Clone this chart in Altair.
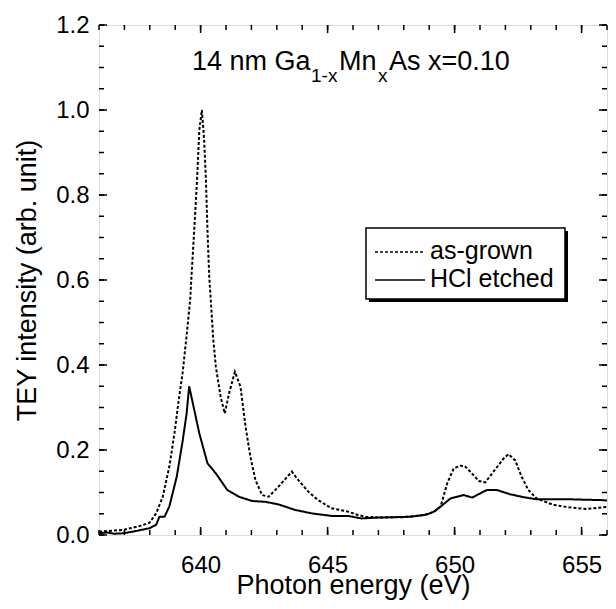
import altair as alt
import pandas as pd

# ---- data ----
x_as = [636.0, 636.5, 636.95, 637.6, 637.99, 638.25, 638.51, 638.77, 638.97, 639.14,
        639.29, 639.45, 639.59, 639.64, 639.75, 639.86, 639.95, 640.05, 640.14, 640.21,
        640.27, 640.34, 640.4, 640.5, 640.6, 640.79, 640.95, 641.12, 641.35, 641.57,
        641.77, 641.96, 642.16, 642.42, 642.68, 643.07, 643.59, 643.85, 644.24, 644.63,
        645.15, 645.8, 646.2, 646.5, 647.0, 648.0, 648.8, 649.2, 649.45, 649.71,
        649.97, 650.23, 650.4, 650.62, 650.95, 651.21, 651.53, 651.93, 652.12, 652.38,
        652.64, 652.9, 653.23, 653.88, 654.53, 655.18, 655.83, 656.0]
y_as = [0.008, 0.010, 0.012, 0.021, 0.029, 0.051, 0.090, 0.161, 0.239, 0.318,
        0.380, 0.470, 0.553, 0.608, 0.718, 0.835, 0.953, 1.000, 0.929, 0.835,
        0.718, 0.608, 0.553, 0.460, 0.396, 0.325, 0.286, 0.333, 0.384, 0.349,
        0.255, 0.184, 0.129, 0.094, 0.090, 0.114, 0.149, 0.129, 0.102, 0.082,
        0.063, 0.055, 0.047, 0.043, 0.041, 0.042, 0.047, 0.055, 0.067, 0.122,
        0.157, 0.163, 0.162, 0.149, 0.127, 0.124, 0.149, 0.180, 0.190, 0.176,
        0.137, 0.106, 0.086, 0.071, 0.065, 0.061, 0.065, 0.066]

x_hcl = [636.0, 636.3, 636.6, 636.95, 637.34, 637.99, 638.25, 638.38, 638.58, 638.77,
         639.06, 639.29, 639.45, 639.55, 639.95, 640.27, 640.6, 641.05, 641.51, 642.03,
         642.55, 643.07, 643.72, 644.37, 645.15, 645.8, 646.32, 646.98, 647.6, 648.28,
         648.9, 649.19, 649.45, 649.84, 650.36, 650.69, 651.27, 651.66, 652.18, 652.71,
         653.23, 654.53, 655.83, 656.0]
y_hcl = [0.004, 0.006, 0.003, 0.004, 0.008, 0.016, 0.024, 0.043, 0.043, 0.067,
         0.137, 0.220, 0.286, 0.350, 0.239, 0.169, 0.145, 0.106, 0.090, 0.080,
         0.078, 0.072, 0.059, 0.051, 0.045, 0.045, 0.039, 0.041, 0.042, 0.043,
         0.048, 0.055, 0.067, 0.086, 0.094, 0.088, 0.106, 0.106, 0.096, 0.089,
         0.084, 0.084, 0.082, 0.081]

series_names = ["as-grown", "HCl etched"]
x_major = [640, 645, 650, 655]
x_minor = list(range(636, 657))
y_major = [0.0, 0.2, 0.4, 0.6, 0.8, 1.0, 1.2]
y_minor = [round(i * 0.05, 2) for i in range(0, 25)]

W, H = 508, 510
FONT = "Liberation Sans"

df = pd.concat([
    pd.DataFrame({"energy": x_as, "tey": y_as, "series": series_names[0]}),
    pd.DataFrame({"energy": x_hcl, "tey": y_hcl, "series": series_names[1]}),
])

xs = alt.Scale(domain=[636, 656], nice=False, zero=False)
ys = alt.Scale(domain=[0, 1.2], nice=False, zero=False)

XAX = alt.Axis(values=x_major, title="Photon energy (eV)", format="d",
               labelFontSize=24, titleFontSize=27, tickSize=0,
               labelPadding=18, titleY=58, titleBaseline="alphabetic",
               domain=False, grid=False,
               labelFont=FONT, titleFont=FONT, titleFontWeight="normal",
               labelColor="black", titleColor="black")
YAX = alt.Axis(values=y_major, title="TEY intensity (arb. unit)", format=".1f",
               labelFontSize=24, titleFontSize=27, tickSize=0,
               labelPadding=10, titlePadding=14, domain=False, grid=False,
               labelFont=FONT, titleFont=FONT, titleFontWeight="normal",
               labelColor="black", titleColor="black")

lines = alt.Chart(df).mark_line(color="black", strokeWidth=2).encode(
    x=alt.X("energy:Q", scale=xs, axis=XAX, title="Photon energy (eV)"),
    y=alt.Y("tey:Q", scale=ys, axis=YAX, title="TEY intensity (arb. unit)"),
    strokeDash=alt.StrokeDash("series:N",
                              scale=alt.Scale(domain=series_names, range=[[3, 2], [1, 0]]),
                              legend=None),
    detail="series:N",
)

def xticks(vals, length):
    d = pd.DataFrame({"t": vals})
    enc = alt.X("t:Q", scale=xs, axis=XAX, title="Photon energy (eV)")
    b = alt.Chart(d).mark_rule(color="black", strokeWidth=1.5).encode(
        x=enc, y=alt.value(H), y2=alt.value(H - length))
    t = alt.Chart(d).mark_rule(color="black", strokeWidth=1.5).encode(
        x=enc, y=alt.value(0), y2=alt.value(length))
    return [b, t]

def yticks(vals, length):
    d = pd.DataFrame({"t": vals})
    enc = alt.Y("t:Q", scale=ys, axis=YAX, title="TEY intensity (arb. unit)")
    l = alt.Chart(d).mark_rule(color="black", strokeWidth=1.5).encode(
        y=enc, x=alt.value(0), x2=alt.value(length))
    r = alt.Chart(d).mark_rule(color="black", strokeWidth=1.5).encode(
        y=enc, x=alt.value(W), x2=alt.value(W - length))
    return [l, r]

ticks = xticks(x_minor, 5) + xticks(x_major, 8) + yticks(y_minor, 5) + yticks(y_major, 8)

# ---- title with subscripts ----
tp = pd.DataFrame({"a": [0]})
def txt(s, x, y, size):
    return alt.Chart(tp).mark_text(text=s, font=FONT, fontSize=size, align="left",
                                   baseline="alphabetic", color="black").encode(
        x=alt.value(x), y=alt.value(y))

title_layers = [
    txt("14 nm Ga", 93, 45, 27),
    txt("1-x", 212, 57, 19),
    txt("Mn", 240, 45, 27),
    txt("x", 279, 57, 19),
    txt("As x=0.10", 290, 45, 27),
]

# ---- legend box ----
LX0, LY0, LX1, LY1 = 267, 203, 466, 274
shadow = alt.Chart(tp).mark_rect(color="black").encode(
    x=alt.value(LX0 + 3), x2=alt.value(LX1 + 3), y=alt.value(LY0 + 3), y2=alt.value(LY1 + 3))
box = alt.Chart(tp).mark_rect(color="white", stroke="black", strokeWidth=1.5).encode(
    x=alt.value(LX0), x2=alt.value(LX1), y=alt.value(LY0), y2=alt.value(LY1))
leg1 = alt.Chart(tp).mark_rule(color="black", strokeWidth=1.5, strokeDash=[3, 2]).encode(
    x=alt.value(276), x2=alt.value(326), y=alt.value(227))
leg2 = alt.Chart(tp).mark_rule(color="black", strokeWidth=1.5).encode(
    x=alt.value(276), x2=alt.value(326), y=alt.value(255))
lt1 = alt.Chart(tp).mark_text(text=series_names[0], font=FONT, fontSize=25, align="left",
                              baseline="middle", color="black").encode(
    x=alt.value(331), y=alt.value(226))
lt2 = alt.Chart(tp).mark_text(text=series_names[1], font=FONT, fontSize=25, align="left",
                              baseline="middle", color="black").encode(
    x=alt.value(331), y=alt.value(254))

chart = alt.layer(lines, *ticks, *title_layers, shadow, box, leg1, leg2, lt1, lt2).properties(
    width=W, height=H,
    autosize=alt.AutoSizeParams(type="none"),
    padding={"left": 91, "top": 17, "right": 1, "bottom": 66},
).configure_view(stroke="black", strokeWidth=2).configure(background="white")

chart.save("out.html", embed_options={"renderer": "svg", "actions": False})
